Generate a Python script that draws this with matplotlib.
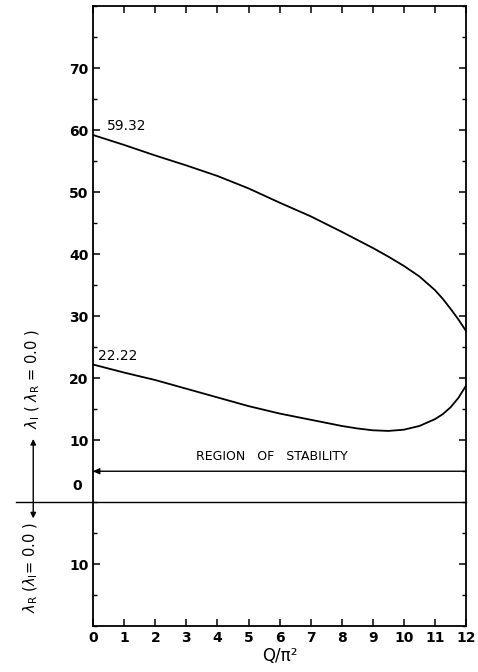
import matplotlib
matplotlib.use('Agg')
import matplotlib.pyplot as plt
from matplotlib.ticker import MultipleLocator

# upper branch of lambda_I (starts at 59.32)
q_upper = [0, 1, 2, 3, 4, 5, 6, 7, 8, 9, 9.5, 10, 10.5, 11, 11.25, 11.5, 11.75, 12]
lam_upper = [59.2, 57.6, 55.9, 54.3, 52.6, 50.6, 48.3, 46.1, 43.6, 41.0, 39.6, 38.1, 36.4, 34.2,
             32.8, 31.2, 29.5, 27.6]

# lower branch of lambda_I (starts at 22.22)
q_lower = [0, 1, 2, 3, 4, 5, 6, 7, 8, 8.5, 9, 9.5, 10, 10.5, 11, 11.25, 11.5, 11.75, 12]
lam_lower = [22.2, 20.9, 19.7, 18.3, 16.9, 15.5, 14.3, 13.3, 12.3, 11.9, 11.6, 11.5, 11.7, 12.3,
             13.4, 14.2, 15.3, 16.8, 18.8]

xticks = list(range(0, 13))
yticks = [-10, 10, 20, 30, 40, 50, 60, 70]
ylabels = ['10', '10', '20', '30', '40', '50', '60', '70']

fig = plt.figure(figsize=(4.78, 6.72), dpi=100)
ax = fig.add_axes([0.195, 0.068, 0.78, 0.923])

ax.plot(q_upper, lam_upper, color='black', lw=1.3)
ax.plot(q_lower, lam_lower, color='black', lw=1.3)

ax.set_xlim(0, 12)
ax.set_ylim(-20, 80)

ax.set_xticks(xticks)
ax.set_yticks(yticks)
ax.set_yticklabels(ylabels)
ax.yaxis.set_minor_locator(MultipleLocator(5))
ax.tick_params(which='both', direction='in', top=True, right=True, labelsize=10)
ax.tick_params(which='major', length=5, width=1.1)
ax.tick_params(which='minor', length=3, width=1.0)
for lab in ax.get_xticklabels() + ax.get_yticklabels():
    lab.set_fontweight('bold')
for s in ax.spines.values():
    s.set_linewidth(1.3)

ax.text(-0.35, 2.6, '0', ha='right', va='center', fontsize=10, fontweight='bold')

# zero line reaching out to the left
ax.plot([-2.5, 12], [0, 0], color='black', lw=1.0, clip_on=False)

# region of stability
ax.annotate('', xy=(0, 5), xytext=(12, 5),
            arrowprops=dict(arrowstyle='-|>', lw=1.0, color='black', shrinkA=0, shrinkB=0,
                            mutation_scale=9))
ax.text(5.75, 7.4, 'REGION   OF   STABILITY', ha='center', va='center', fontsize=9)

ax.text(0.45, 60.6, '59.32', fontsize=10, ha='left', va='center')
ax.text(0.15, 23.6, '22.22', fontsize=10, ha='left', va='center')

# axis labels with the up/down arrow
ax.annotate('', xy=(-1.93, 10.2), xytext=(-1.93, -2.6), annotation_clip=False,
            arrowprops=dict(arrowstyle='<|-|>', lw=1.0, color='black', shrinkA=0, shrinkB=0,
                            mutation_scale=8))
ax.text(-1.93, 19.8, r'$\lambda_{\rm I}$ ( $\lambda_{\rm R}$ = 0.0 )', rotation=90,
        ha='center', va='center', fontsize=10.5)
ax.text(-2.0, -10.6, r'$\lambda_{\rm R}$ ($\lambda_{\rm I}$= 0.0 )', rotation=90,
        ha='center', va='center', fontsize=10.5)

ax.set_xlabel('Q/π²', fontsize=12, labelpad=1)

fig.savefig('out.png', dpi=100)
